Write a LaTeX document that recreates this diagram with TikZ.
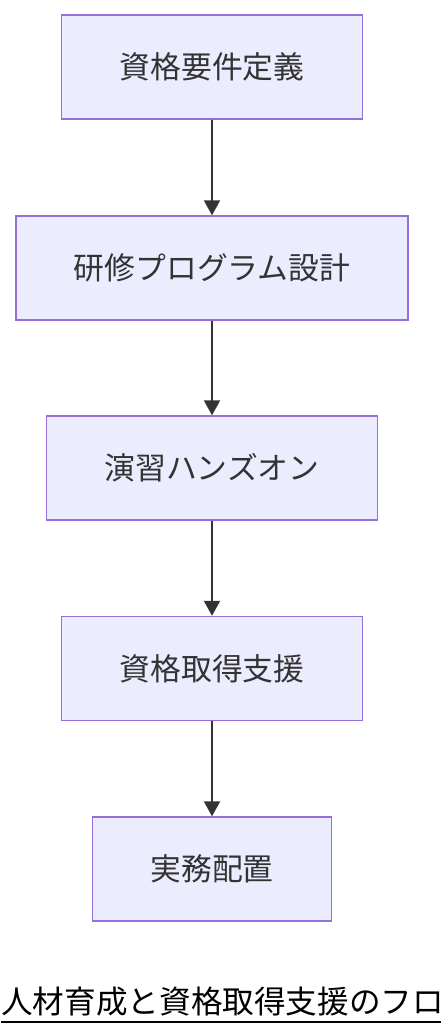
\documentclass[tikz,border=0pt]{standalone}
\usepackage{fontspec}
\setmainfont{Noto Sans CJK JP}
\usetikzlibrary{arrows.meta}
\definecolor{boxfill}{HTML}{ECECFF}
\definecolor{boxline}{HTML}{9370DB}
\definecolor{flowtext}{HTML}{333333}

\begin{document}
\begin{tikzpicture}[x=0.5pt, y=-0.5pt,
    stepbox/.style={draw=boxline, fill=boxfill, line width=0.7pt, text=flowtext,
        font=\fontsize{15.4pt}{18pt}\selectfont, minimum height=52pt, inner xsep=29pt},
    flow/.style={draw=flowtext, line width=1pt, -{Triangle[width=8pt, length=7.5pt]}}]
    \useasboundingbox (0,0) rectangle (440,1036);

    % the five steps, top to bottom
    \node[stepbox] (reqs)   at (212, 67)  {資格要件定義};
    \node[stepbox] (train)  at (212, 268) {研修プログラム設計};
    \node[stepbox] (drill)  at (212, 468) {演習ハンズオン};
    \node[stepbox] (certs)  at (212, 668.5) {資格取得支援};
    \node[stepbox] (assign) at (212, 869) {実務配置};

    \foreach \a/\b in {reqs/train, train/drill, drill/certs, certs/assign} {
        \draw[flow] (\a) -- (\b);
    }

    % caption, underlined and running off the right edge
    \node[anchor=base west, inner sep=0pt, font=\fontsize{15.8pt}{18pt}\selectfont] (title) at (1, 1013) {人材育成と資格取得支援のフロー};
    \draw[line width=1pt] ([yshift=-4.25pt]title.base west) -- ([yshift=-4.25pt]title.base east);
\end{tikzpicture}
\end{document}
